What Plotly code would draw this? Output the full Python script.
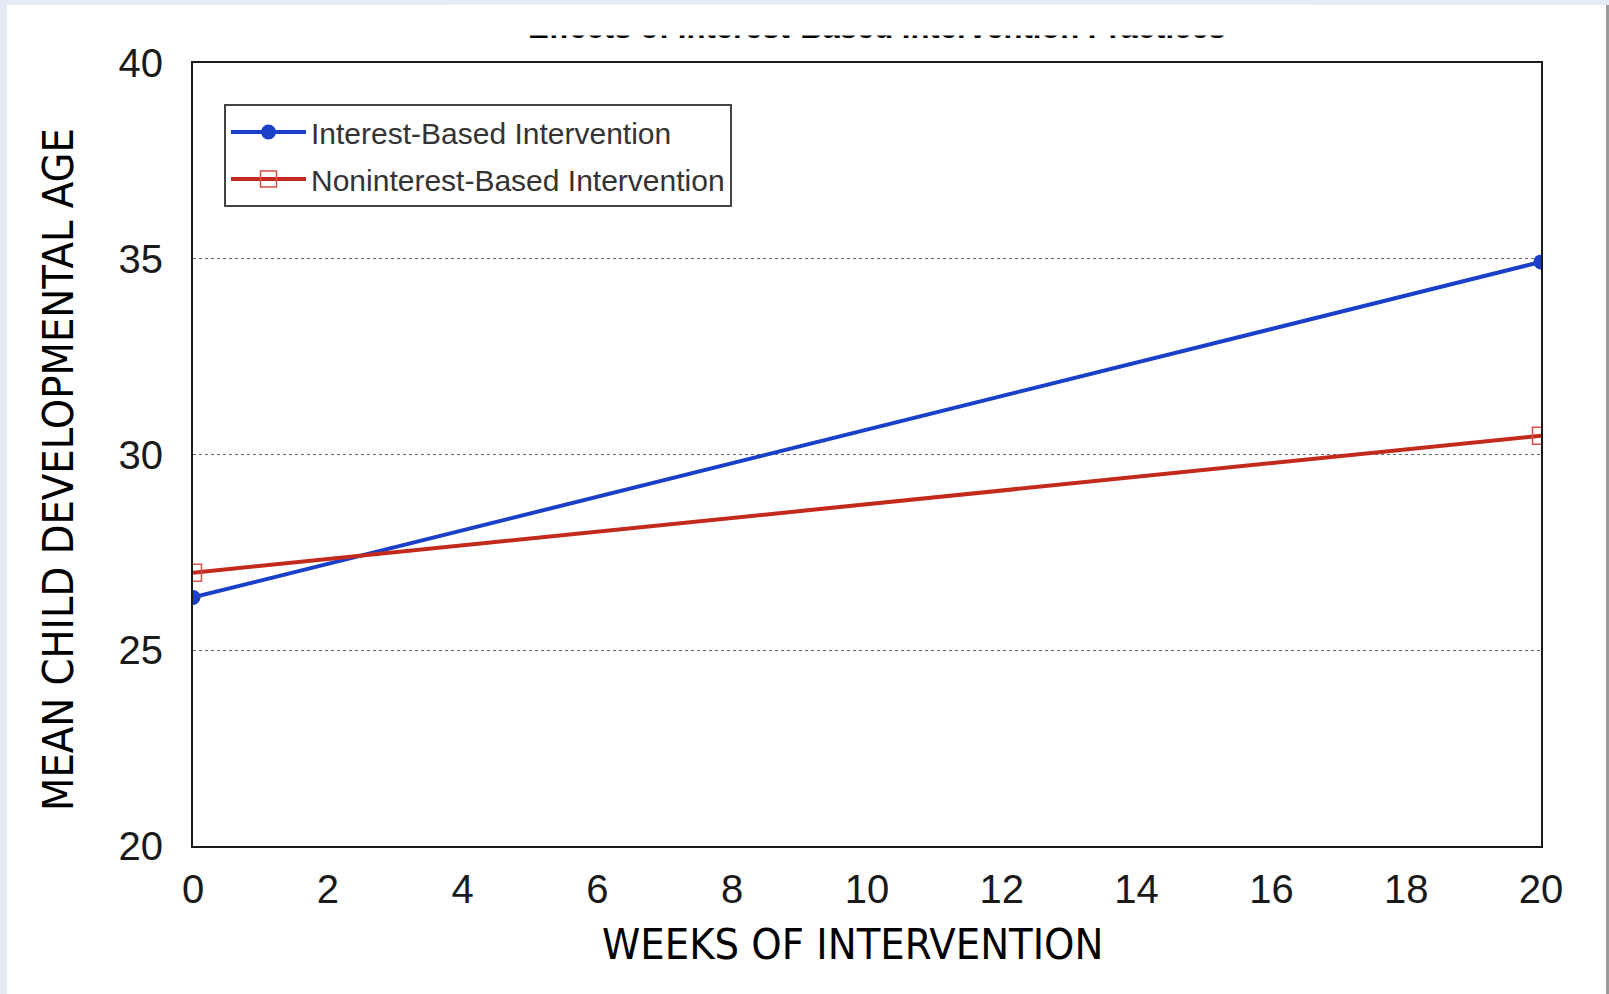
import plotly.graph_objects as go

weeks = [0, 20]
interest_based = [26.35, 34.92]
noninterest_based = [26.98, 30.48]
series_names = ["Interest-Based Intervention", "Noninterest-Based Intervention"]
y_ticks = [20, 25, 30, 35, 40]
x_ticks = list(range(0, 21, 2))

W, H = 1609, 994
L, R, T, B = 193, 68, 63, 148
PW, PH = W - L - R, H - T - B

def px(x):
    return (x - L) / PW

def py(y):
    return (H - B - y) / PH

fig = go.Figure()
fig.add_trace(go.Scatter(
    x=weeks, y=interest_based, name=series_names[0], mode="lines+markers",
    line=dict(color="#1a3fc8", width=4),
    marker=dict(symbol="circle", size=15, color="#1a3fc8"),
    legendgroup="a",
))
fig.add_trace(go.Scatter(
    x=weeks, y=noninterest_based, name=series_names[1], mode="lines+markers",
    line=dict(color="#c42a1c", width=4),
    marker=dict(symbol="square-open", size=17, color="#d9504a", line=dict(width=1.5)),
    legendgroup="b",
))

tick_font = dict(family="Liberation Sans, Arial, sans-serif", size=40, color="#1a1a1a")
fig.update_xaxes(
    range=[0, 20], tickvals=x_ticks, showgrid=False, zeroline=False,
    showline=True, mirror=True, linecolor="#1a1a1a", linewidth=2,
    ticks="", tickfont=tick_font, ticklabelstandoff=7,
)
fig.update_yaxes(
    range=[20, 40], tickvals=y_ticks, showgrid=True, gridcolor="#666",
    griddash="dot", gridwidth=1, zeroline=False,
    showline=True, mirror=True, linecolor="#1a1a1a", linewidth=2,
    ticks="", tickfont=tick_font, ticklabelstandoff=20,
)

shapes = [
    dict(type="rect", xref="paper", yref="paper", x0=px(7), x1=px(1606), y0=py(994), y1=py(5),
         fillcolor="white", line=dict(width=0), layer="below"),
    dict(type="rect", xref="paper", yref="paper", x0=px(1606), x1=px(1609), y0=py(994), y1=py(5),
         fillcolor="#9a9a9a", line=dict(width=0), layer="below"),
]

title_font = dict(family="Liberation Sans Narrow, DejaVu Sans Condensed, sans-serif", size=43, color="#000")
annotations = [
    dict(text="WEEKS OF INTERVENTION", xref="paper", yref="paper", x=px(852), y=py(944),
         xanchor="center", yanchor="middle", showarrow=False, font=title_font),
    dict(text="MEAN CHILD DEVELOPMENTAL AGE", xref="paper", yref="paper", x=px(58), y=py(470),
         xanchor="center", yanchor="middle", showarrow=False, font=title_font, textangle=-90),
    dict(text="<b>Effects of Interest-Based Intervention Practices</b>", xref="paper", yref="paper",
         x=px(877), y=py(27.5), xanchor="center", yanchor="middle", showarrow=False,
         font=dict(family="Liberation Sans, Arial, sans-serif", size=31, color="#000")),
    dict(text=" ", xref="paper", yref="paper", x=px(877), y=py(36), xanchor="center",
         yanchor="bottom", showarrow=False, bgcolor="white", width=860, height=30, borderpad=0),
]

fig.update_layout(
    width=W, height=H,
    margin=dict(l=L, r=R, t=T, b=B, autoexpand=False),
    paper_bgcolor="#e4ebf5", plot_bgcolor="white",
    shapes=shapes, annotations=annotations,
    showlegend=True,
    legend=dict(
        x=px(224), y=py(104), xanchor="left", yanchor="top",
        bgcolor="white", bordercolor="#444", borderwidth=2,
        font=dict(family="Liberation Sans, Arial, sans-serif", size=30, color="#333"),
        tracegroupgap=5, itemwidth=75,
    ),
)

fig.write_html("out.html", config={"displayModeBar": False},
               post_script="document.body.style.margin='0';")
